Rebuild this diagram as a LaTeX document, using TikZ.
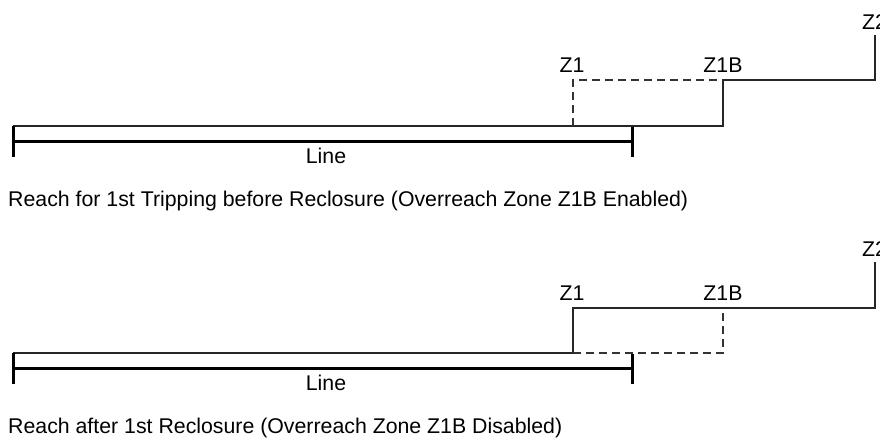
\documentclass[tikz,border=0pt]{standalone}
\usepackage{fontspec}
\setmainfont{Liberation Sans}
\begin{document}
\begin{tikzpicture}[x=1pt,y=-1pt,
  thinln/.style={line width=1.3pt,draw=black!85},
  thickln/.style={line width=3pt,draw=black},
  dashln/.style={line width=1.3pt,draw=black!80,dash pattern=on 8pt off 5pt},
  lbl/.style={inner sep=0pt,font=\fontsize{21.3}{25}\selectfont},
  captxt/.style={inner sep=0pt,anchor=west,font=\fontsize{21.3}{25}\selectfont}]
\useasboundingbox (0,0) rectangle (880,439);
% ---------- top diagram ----------
\coordinate (a0) at (13,126);
\coordinate (a1) at (573,126);
\coordinate (a2) at (723,126);
\coordinate (a3) at (573,80);
\coordinate (a4) at (723,80);
\coordinate (a5) at (875,80);
\coordinate (a6) at (875,35);
\coordinate (la) at (13,141);
\coordinate (lb) at (632,141);
\coordinate (ta1) at (13,126);
\coordinate (ta2) at (13,157);
\coordinate (tb1) at (632,127);
\coordinate (tb2) at (632,157);
\draw[thinln] (a0) -- (a2) -- (a4) -- (a5) -- (a6);
\draw[dashln] (a1) -- (a3) -- (a4);
\draw[thickln] (la) -- (lb);
\draw[thickln] (ta1) -- (ta2);
\draw[thickln] (tb1) -- (tb2);
\node[lbl,anchor=west] (z2a) at (862,22) {Z2};
\node[lbl] (z1a) at (572,65) {Z1};
\node[lbl] (z1ba) at (723,65) {Z1B};
\node[lbl] (linea) at (326,156) {Line};
\node[captxt] (capa) at (8,201) {Reach for 1st Tripping before Reclosure (Overreach Zone Z1B Enabled)};
% ---------- bottom diagram ----------
\coordinate (b0) at (13,353);
\coordinate (b1) at (573,353);
\coordinate (b2) at (723,353);
\coordinate (b3) at (573,308);
\coordinate (b4) at (723,308);
\coordinate (b5) at (875,308);
\coordinate (b6) at (875,262);
\coordinate (lc) at (13,368);
\coordinate (ld) at (632,368);
\coordinate (tc1) at (13,353);
\coordinate (tc2) at (13,384);
\coordinate (td1) at (632,354);
\coordinate (td2) at (632,384);
\draw[thinln] (b0) -- (b1) -- (b3) -- (b5) -- (b6);
\draw[dashln] (b1) -- (b2) -- (b4);
\draw[thickln] (lc) -- (ld);
\draw[thickln] (tc1) -- (tc2);
\draw[thickln] (td1) -- (td2);
\node[lbl,anchor=west] (z2b) at (862,249) {Z2};
\node[lbl] (z1b) at (572,293) {Z1};
\node[lbl] (z1bb) at (723,293) {Z1B};
\node[lbl] (lineb) at (326,383) {Line};
\node[captxt] (capb) at (8,428) {Reach after 1st Reclosure (Overreach Zone Z1B Disabled)};
\end{tikzpicture}
\end{document}
